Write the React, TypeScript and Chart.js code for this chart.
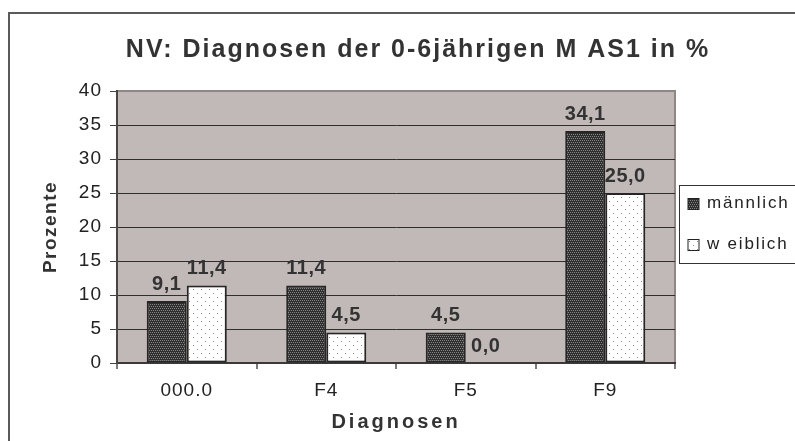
import React, { useEffect, useRef } from "react";
import { Chart, registerables } from "chart.js";

Chart.register(...registerables);

const categories = ["000.0", "F4", "F5", "F9"];
const maennlich = [9.1, 11.4, 4.5, 34.1];
const weiblich = [11.4, 4.5, 0.0, 25.0];
const seriesLabels = ["männlich", "w eiblich"];
const yMin = 0;
const yMax = 40;
const yStep = 5;
const titleText = "NV: Diagnosen der 0-6jährigen M AS1 in %";
const xTitleText = "Diagnosen";
const yTitleText = "Prozente";

const W = 840;
const H = 480;
const FONT = '"Liberation Sans", Arial, Helvetica, sans-serif';

function makePattern(kind: "dark" | "light"): CanvasPattern | string {
  const c = document.createElement("canvas");
  const size = kind === "dark" ? 4 : 8;
  c.width = size;
  c.height = size;
  const g = c.getContext("2d");
  if (!g) return kind === "dark" ? "#474747" : "#ffffff";
  if (kind === "dark") {
    g.fillStyle = "#2f2f2f";
    g.fillRect(0, 0, 4, 4);
    g.fillStyle = "#858585";
    g.fillRect(0, 0, 1, 1);
    g.fillRect(2, 0, 1, 1);
    g.fillRect(1, 2, 1, 1);
    g.fillRect(3, 2, 1, 1);
  } else {
    g.fillStyle = "#ffffff";
    g.fillRect(0, 0, 8, 8);
    g.fillStyle = "#8a8a8a";
    g.fillRect(1, 1, 1, 1);
    g.fillRect(5, 5, 1, 1);
  }
  const p = g.createPattern(c, "repeat");
  return p || (kind === "dark" ? "#474747" : "#ffffff");
}

export default function App() {
  const ref = useRef<HTMLCanvasElement | null>(null);

  useEffect(() => {
    const canvas = ref.current;
    if (!canvas) return;
    const darkPat = makePattern("dark");
    const lightPat = makePattern("light");

    const decor = {
      id: "decor",
      afterLayout(chart: any) {
        Object.values(chart.scales).forEach((s: any) => {
          if (s.__wrappedTitle) return;
          const orig = s.drawTitle.bind(s);
          const spacing = s.axis === "x" ? "3px" : "1.5px";
          s.drawTitle = function () {
            const c = chart.ctx;
            const prev = c.letterSpacing;
            c.letterSpacing = spacing;
            orig();
            c.letterSpacing = prev;
          };
          s.__wrappedTitle = true;
        });
      },
      beforeDraw(chart: any) {
        const { ctx, chartArea: a } = chart;
        ctx.save();
        ctx.fillStyle = "#ffffff";
        ctx.fillRect(0, 0, W, H);
        // outer frame (left and top edges visible)
        ctx.fillStyle = "#5a5a5a";
        ctx.fillRect(8, 12, 2, H);
        ctx.fillRect(8, 12, W, 2);
        // plot background
        ctx.fillStyle = "#c1b9b7";
        ctx.fillRect(a.left, a.top, a.right - a.left, a.bottom - a.top);
        // plot border top/right
        ctx.strokeStyle = "#8f8785";
        ctx.lineWidth = 2;
        ctx.beginPath();
        ctx.moveTo(a.left, a.top);
        ctx.lineTo(a.right, a.top);
        ctx.lineTo(a.right, a.bottom);
        ctx.stroke();
        // title
        ctx.font = `bold 25px ${FONT}`;
        ctx.letterSpacing = "2px";
        ctx.fillStyle = "#333333";
        ctx.textAlign = "center";
        ctx.textBaseline = "alphabetic";
        ctx.fillText(titleText, 418, 57);
        ctx.restore();
        ctx.letterSpacing = "1px";
      },
      afterDatasetsDraw(chart: any) {
        const ctx = chart.ctx;
        ctx.save();
        ctx.font = `bold 20px ${FONT}`;
        ctx.letterSpacing = "0.5px";
        ctx.fillStyle = "#333333";
        ctx.textAlign = "center";
        ctx.textBaseline = "alphabetic";
        chart.data.datasets.forEach((ds: any, i: number) => {
          const meta = chart.getDatasetMeta(i);
          meta.data.forEach((bar: any, j: number) => {
            const v = ds.data[j] as number;
            ctx.fillText(v.toFixed(1).replace(".", ","), bar.x, bar.y - 11);
          });
        });
        ctx.restore();
      },
      afterDraw(chart: any) {
        const ctx = chart.ctx;
        const a = chart.chartArea;
        ctx.save();
        const bx = a.right + 4.5;
        const by = 185.5;
        ctx.fillStyle = "#ffffff";
        ctx.fillRect(bx, by, 140, 78);
        ctx.strokeStyle = "#333333";
        ctx.lineWidth = 1;
        ctx.strokeRect(bx, by, 140, 78);
        ctx.font = `17px ${FONT}`;
        ctx.letterSpacing = "1.8px";
        ctx.textAlign = "left";
        ctx.textBaseline = "alphabetic";
        chart.data.datasets.forEach((ds: any, i: number) => {
          const sy = 198 + i * 41;
          ctx.fillStyle = ds.backgroundColor;
          ctx.fillRect(bx + 8.5, sy, 11, 11);
          ctx.strokeStyle = "#222222";
          ctx.strokeRect(bx + 8.5, sy + 0.5, 11, 11);
          ctx.fillStyle = "#222222";
          ctx.fillText(ds.label, bx + 27.5, sy + 10);
        });
        ctx.restore();
        ctx.letterSpacing = "0px";
      },
    };

    const chart = new Chart(canvas, {
      type: "bar",
      data: {
        labels: categories,
        datasets: [
          {
            label: seriesLabels[0],
            data: maennlich,
            backgroundColor: darkPat as any,
            borderColor: "#262626",
            borderWidth: 2,
            borderSkipped: false,
            categoryPercentage: 0.574,
            barPercentage: 1,
          },
          {
            label: seriesLabels[1],
            data: weiblich,
            backgroundColor: lightPat as any,
            borderColor: "#262626",
            borderWidth: 2,
            borderSkipped: false,
            categoryPercentage: 0.574,
            barPercentage: 1,
          },
        ],
      },
      options: {
        responsive: false,
        animation: false,
        devicePixelRatio: 1,
        layout: {
          padding: { top: 91, left: 39, right: W - 675, bottom: H - 434 },
        },
        plugins: {
          legend: { display: false },
          title: { display: false },
          tooltip: { enabled: false },
        },
        scales: {
          x: {
            afterFit(scale: any) {
              scale.height = 71;
            },
            grid: {
              drawOnChartArea: false,
              drawTicks: true,
              tickLength: 6,
              tickColor: "#7a7a7a",
              lineWidth: 2,
            },
            border: { display: true, color: "#3a3a3a", width: 2 },
            ticks: {
              color: "#222222",
              font: { family: FONT, size: 19 },
              padding: 10,
              maxRotation: 0,
            },
            title: {
              display: true,
              text: xTitleText,
              color: "#333333",
              font: { family: FONT, size: 20, weight: "bold" },
              padding: { top: 0, bottom: 0 },
            },
          },
          y: {
            min: yMin,
            max: yMax,
            afterFit(scale: any) {
              scale.width = 78;
            },
            ticks: {
              stepSize: yStep,
              color: "#222222",
              font: { family: FONT, size: 19 },
              padding: 8,
            },
            grid: {
              color: (c: any) => (c.tick && c.tick.value === yMax ? "rgba(0,0,0,0)" : "#2e2e2e"),
              lineWidth: 1,
              tickLength: 7,
              tickColor: "#444444",
            },
            border: { display: true, color: "#4a4444", width: 2 },
            title: {
              display: true,
              text: yTitleText,
              color: "#333333",
              font: { family: FONT, size: 19, weight: "bold" },
              padding: { top: 0, bottom: 0 },
            },
          },
        },
      },
      plugins: [decor as any],
    });

    return () => {
      chart.destroy();
    };
  }, []);

  return (
    <div
      style={{
        position: "fixed",
        left: 0,
        top: 0,
        width: 795,
        height: 441,
        overflow: "hidden",
        background: "#ffffff",
      }}
    >
      <canvas ref={ref} width={W} height={H} style={{ display: "block", width: W, height: H }} />
    </div>
  );
}
